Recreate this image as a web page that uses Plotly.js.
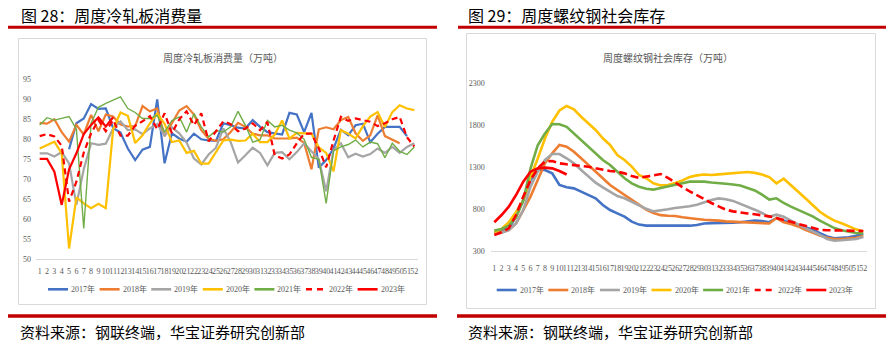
<!DOCTYPE html>
<html><head><meta charset="utf-8">
<script src="https://cdn.plot.ly/plotly-3.0.1.min.js"></script>
<style>html,body{margin:0;padding:0;background:#fff;}#chart{width:891px;height:343px;}</style>
</head><body><div id="chart"></div>
<script>
// ---------- data ----------
const weeks = [1,2,3,4,5,6,7,8,9,10,11,12,13,14,15,16,17,18,19,20,21,22,23,24,25,26,27,28,29,30,31,32,33,34,35,36,37,38,39,40,41,42,43,44,45,46,47,48,49,50,51,52];
const weekLabels = ['1','2','3','4','5','6','7','8','9','10','11','12','13','14','15','16','17','18','19','20','21','22','23','24','25','26','27','28','29','30','31','32','33','34','35','36','37','38','39','40','41','42','43','44','45','46','47','48','49','50','51','52'];
const seriesNames = ['2017年','2018年','2019年','2020年','2021年','2022年','2023年'];
const seriesColors = ['#4472C4','#ED7D31','#A5A5A5','#FFC000','#70AD47','#FF0000','#FF0000'];
const seriesDashed = [false,false,false,false,false,true,false];

const leftTicks = [50,55,60,65,70,75,80,85,90,95];
const rightTicks = [300,800,1300,1800,2300];

// 周度冷轧板消费量（万吨）
const cold2017 = [null,null,null,null,77.5,84,85.2,88.8,87.6,87.7,82.8,81.7,77.7,74.8,77.4,78.1,90,74,81.5,80.2,79.4,81.4,80,79.7,79.6,84,83.5,82.9,82.7,84.8,83.1,81.8,81.5,81.2,86.6,86.2,81.8,86.6,72.9,74.8,77.7,82.4,81,83.5,83.9,79.3,81.4,83.1,83.1,83.1,80.8,null];
const cold2018 = [84.1,83.9,85,81.8,79.4,83.6,81.2,86.1,82,86.2,85.7,83.7,83.2,83.3,88.3,87,87.7,80.8,84,87.2,88.3,86.2,82.3,80.1,79.6,80,81.8,84.1,83.1,81.4,81,81,80.2,80.2,80.2,80.4,79.1,72.5,82.5,83,82.5,84.8,85.6,81.5,79.6,81,86,80.8,80,79,null,null];
const cold2019 = [76.5,76.5,75.7,76.8,74,63.6,72.5,79,78.6,78.9,82.7,84.5,82.3,82.5,81.3,82.7,83.8,81,83,81.5,79.2,75.2,73.7,76.2,77.9,82.7,79.3,74.2,76,77.9,76.6,73.5,76.6,76.8,75,76.8,79,77,75,67,77.3,79,75.5,76.4,75.7,76.3,77.7,76.6,78.1,76.6,78.1,79];
const cold2020 = [77.7,78.5,79.4,76.5,52.7,65.5,64,62.8,63.9,62.8,82.5,86.7,85.9,79.1,81,84,86.4,83.9,79.3,79.7,76.6,77.1,73.9,73.9,76.8,79.7,79.9,79.6,79.7,81.4,79.3,79.3,81.2,84.7,80.2,81.6,81.5,81.4,78,76.6,72,82.3,81.4,80.2,83.3,85.7,86.8,83.1,86.8,88.5,87.7,87.3];
const cold2021 = [83.6,85.4,84.8,85.2,85.7,82.5,57.7,84,88,89,89.8,90.6,87.7,86.7,85.2,85.2,86,81.8,84.7,85.6,81.8,86.4,83.1,80.6,82.2,81.8,83.1,87,83.5,79.3,79.9,84.7,83.1,83.5,82.3,81.6,80,75.5,75,64,77.1,78.1,78.7,79.8,78.1,79.3,78.9,75.4,79,77,76.2,78.1];
const cold2022 = [80.8,81.3,80.7,78.4,64.4,69.4,76.7,81.5,84.8,82,84.8,80.9,80.9,83.4,84.5,85.8,82.5,86.5,81.5,85,87,83.5,86.5,79.5,82,84.5,83.8,82,82.7,84,82.3,84.3,76,75.2,76.2,79,81.4,81.4,77.7,73,79.7,85.6,84.6,85.2,84.8,84.4,83.3,84,85,85.6,80.5,78.2];
const cold2023 = [75.1,75.1,71.9,63.6,72.5,76.5,81.3,83.6,85.5,83.2,85.5,null,null,null,null,null,null,null,null,null,null,null,null,null,null,null,null,null,null,null,null,null,null,null,null,null,null,null,null,null,null,null,null,null,null,null,null,null,null,null,null,null];

// 周度螺纹钢社会库存（万吨）
const rebar2017 = [515,530,567,707,906,1145,1264,1264,1224,1085,1057,1045,1005,965,926,846,786,746,707,647,612,600,600,598,595,595,595,599,607,625,630,630,630,635,640,650,660,655,640,690,660,630,600,580,550,510,470,448,450,460,478,500];
const rebar2018 = [505,520,547,627,786,946,1145,1344,1463,1563,1543,1483,1404,1324,1244,1165,1085,1025,965,906,846,790,750,725,718,715,700,687,679,670,667,659,650,645,640,635,635,630,625,690,640,620,590,550,515,480,455,440,440,445,455,475];
const rebar2019 = [500,515,547,627,786,1065,1244,1384,1455,1455,1404,1344,1264,1184,1113,1057,1005,953,926,886,840,800,770,780,795,810,820,830,850,880,905,925,915,895,860,830,790,750,705,730,705,660,610,570,530,490,440,420,425,430,440,465];
const rebar2020 = [520,560,640,760,900,1180,1400,1640,1840,1975,2029,1989,1901,1822,1742,1643,1563,1443,1384,1304,1204,1165,1105,1080,1085,1110,1140,1180,1200,1210,1205,1212,1220,1226,1232,1240,1230,1210,1180,1105,1160,1085,1005,926,846,766,707,659,627,590,555,530];
const rebar2021 = [540,560,600,700,900,1280,1560,1700,1814,1810,1780,1702,1622,1543,1463,1384,1324,1244,1165,1105,1065,1040,1030,1050,1070,1090,1113,1125,1125,1125,1115,1110,1100,1090,1080,1050,1020,970,910,926,870,826,786,745,710,660,610,570,545,525,512,505];
const rebar2022 = [487,520,567,726,946,1145,1284,1364,1372,1344,1332,1324,1316,1304,1284,1264,1252,1244,1224,1192,1170,1185,1205,1216,1170,1110,1060,1010,960,910,870,830,790,770,755,745,735,725,710,690,670,645,620,595,570,550,545,542,540,540,538,535];
const rebar2023 = [640,726,826,965,1125,1244,1284,1292,1284,1252,1210,null,null,null,null,null,null,null,null,null,null,null,null,null,null,null,null,null,null,null,null,null,null,null,null,null,null,null,null,null,null,null,null,null,null,null,null,null,null,null,null,null];

const coldSeries = [cold2017,cold2018,cold2019,cold2020,cold2021,cold2022,cold2023];
const rebarSeries = [rebar2017,rebar2018,rebar2019,rebar2020,rebar2021,rebar2022,rebar2023];

// ---------- layout helpers ----------
const W = 891, H = 343;
const px = v => v / W;
const py = v => 1 - v / H;
const SERIF = 'Liberation Serif, "Noto Sans CJK SC", serif';
const CJK = '"Noto Sans CJK SC", sans-serif';
const GREY_TXT = '#595959';

const traces = [];
coldSeries.forEach((ys, i) => {
  traces.push({
    x: weeks, y: ys, xaxis: 'x', yaxis: 'y', type: 'scatter', mode: 'lines',
    name: seriesNames[i], showlegend: false, hoverinfo: 'skip',
    line: {color: seriesColors[i], width: i === 4 ? 1.4 : 2.2, dash: seriesDashed[i] ? '6px,4px' : 'solid'}
  });
});
rebarSeries.forEach((ys, i) => {
  traces.push({
    x: weeks, y: ys, xaxis: 'x2', yaxis: 'y2', type: 'scatter', mode: 'lines',
    name: seriesNames[i], showlegend: false, hoverinfo: 'skip',
    line: {color: seriesColors[i], width: 2.6, dash: seriesDashed[i] ? '8px,4px' : 'solid'}
  });
});

const tickFont = {family: SERIF, size: 8, color: GREY_TXT};
const xCommon = {
  range: [0.5, 52.5], tickmode: 'array', tickvals: weeks, ticktext: weekLabels, tickangle: 0,
  showgrid: false, zeroline: false, showline: true, linecolor: '#D9D9D9', linewidth: 1,
  ticks: '', tickfont: tickFont, fixedrange: true
};

const shapes = [];
const annotations = [];
const redLine = (x0, x1, y, w) => shapes.push({type: 'line', xref: 'paper', yref: 'paper',
  x0: px(x0), x1: px(x1), y0: py(y), y1: py(y), line: {color: '#C00000', width: w}});
const box = (x0, x1, y0, y1) => shapes.push({type: 'rect', xref: 'paper', yref: 'paper',
  x0: px(x0), x1: px(x1), y0: py(y1), y1: py(y0), line: {color: '#D9D9D9', width: 1}, fillcolor: 'rgba(0,0,0,0)'});
const text = (t, x, y, size, color, anchor) => annotations.push({text: t, xref: 'paper', yref: 'paper',
  x: px(x), y: py(y), xanchor: anchor || 'left', yanchor: 'middle', showarrow: false,
  font: {family: CJK, size: size, color: color}});

// frames & rules
redLine(8, 437, 27.2, 3);
redLine(458, 886, 27.2, 3);
redLine(8, 437, 316, 3.5);
redLine(457, 886, 316, 3.5);
box(18.5, 426.5, 38.5, 304.5);
box(466.5, 875.5, 33.5, 308.5);

// headings and sources
text('图 28：周度冷轧板消费量', 19, 15, 16, '#000000');
text('图 29：周度螺纹钢社会库存', 466, 15, 16, '#000000');
text('资料来源：钢联终端，华宝证券研究创新部', 18, 331, 15, '#000000');
text('资料来源：钢联终端，华宝证券研究创新部', 466, 331, 15, '#000000');
text('周度冷轧板消费量（万吨）', 223, 58, 10, GREY_TXT, 'center');
text('周度螺纹钢社会库存（万吨）', 668, 58, 10, GREY_TXT, 'center');

// legends (built from series names / colours)
const legendRow = (startX, y) => {
  seriesNames.forEach((n, i) => {
    const x0 = startX + i * 51.6;
    shapes.push({type: 'line', xref: 'paper', yref: 'paper', x0: px(x0), x1: px(x0 + 20), y0: py(y), y1: py(y),
      line: {color: seriesColors[i], width: 2.6, dash: seriesDashed[i] ? '6px,5px' : 'solid'}});
    annotations.push({text: n, xref: 'paper', yref: 'paper', x: px(x0 + 21), y: py(y), xanchor: 'left', yanchor: 'middle',
      showarrow: false, font: {family: SERIF, size: 8, color: GREY_TXT}});
  });
};
legendRow(48, 289.3);
legendRow(496.7, 290);

const layout = {
  width: W, height: H, margin: {l: 0, r: 0, t: 0, b: 0},
  paper_bgcolor: '#ffffff', plot_bgcolor: 'rgba(0,0,0,0)', showlegend: false,
  font: {family: SERIF, color: GREY_TXT},
  xaxis: Object.assign({}, xCommon, {domain: [px(36), px(418)], anchor: 'y', ticklabelstandoff: 4}),
  yaxis: {domain: [py(259.3), py(79.3)], range: [50, 95], tickmode: 'array', tickvals: leftTicks,
    showgrid: false, zeroline: false, showline: false, ticks: '', tickfont: tickFont, anchor: 'x',
    ticklabelstandoff: 4, fixedrange: true},
  xaxis2: Object.assign({}, xCommon, {domain: [px(490.7), px(866.9)], anchor: 'y2', ticklabelstandoff: 10}),
  yaxis2: {domain: [py(250.7), py(83.3)], range: [300, 2300], tickmode: 'array', tickvals: rightTicks,
    showgrid: false, zeroline: false, showline: false, ticks: '', tickfont: tickFont, anchor: 'x2',
    ticklabelstandoff: 5, fixedrange: true},
  shapes: shapes, annotations: annotations
};

Plotly.newPlot('chart', traces, layout, {staticPlot: true, displayModeBar: false});
</script></body></html>
